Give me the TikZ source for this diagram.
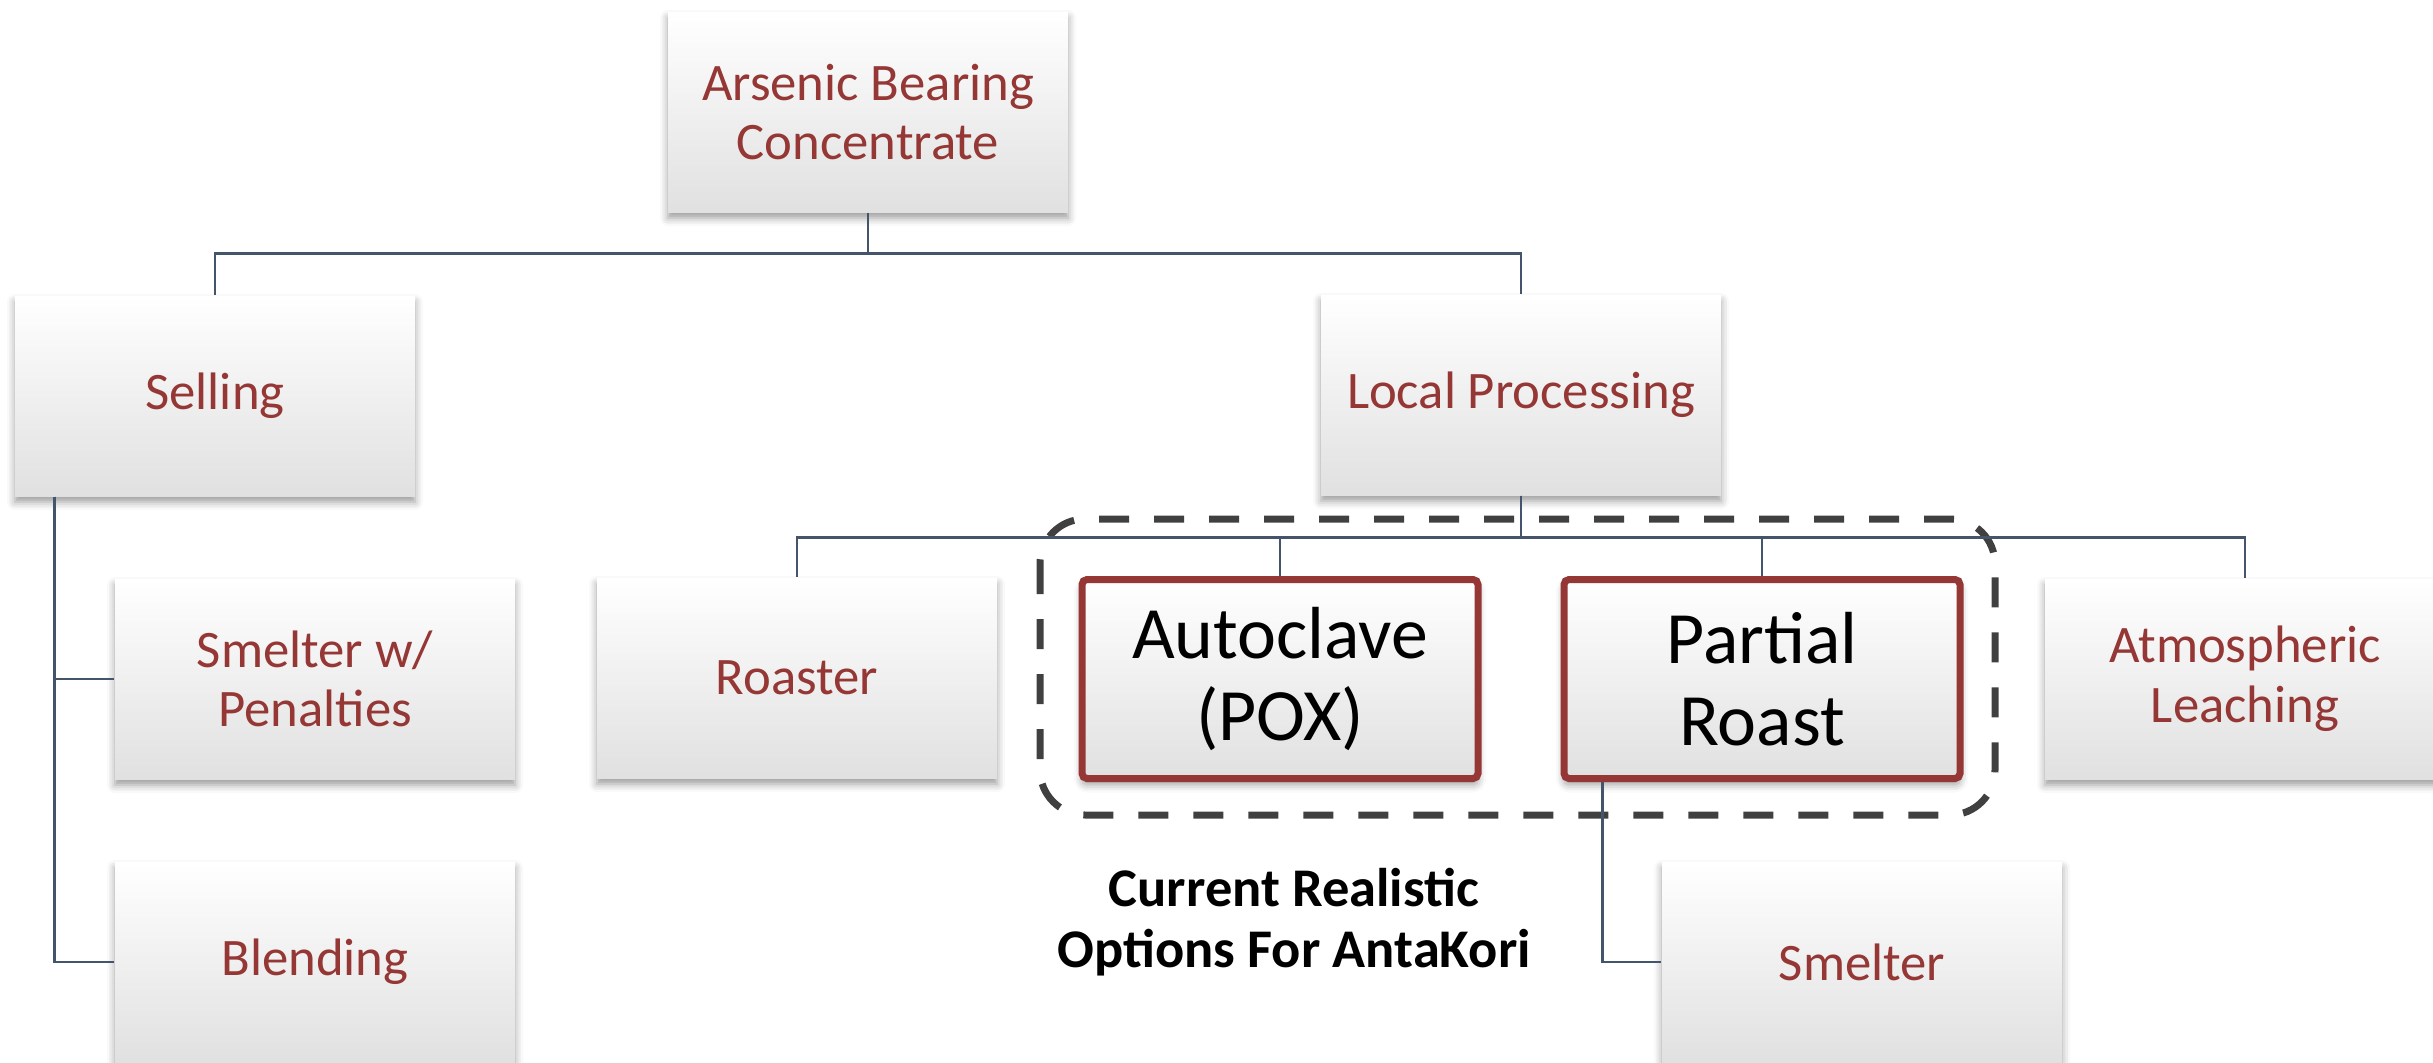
\documentclass[tikz,border=0pt]{standalone}
\usepackage{fontspec}
\setmainfont{Carlito}
\usetikzlibrary{shadows.blur}

\definecolor{optred}{RGB}{149,55,53}
\definecolor{linkblue}{RGB}{68,84,106}
\definecolor{dashgray}{RGB}{64,64,64}

\tikzset{
	box/.style={minimum width=4cm, minimum height=2cm, align=center, text=optred,
		top color=white, middle color=white, bottom color=black!12,
		blur shadow={shadow xshift=0pt, shadow yshift=-0.6mm, shadow blur radius=0.8mm, shadow opacity=40},
		font=\fontsize{15}{17}\selectfont},
	pick/.style={box, draw=optred, line width=0.07cm, rounded corners=0.05cm,
		minimum width=3.96cm, minimum height=1.99cm, text=black,
		font=\fontsize{21}{23.5}\selectfont},
	link/.style={linkblue, line width=0.025cm},
	optbox/.style={dashgray, line width=0.07cm, dash pattern=on 0.3cm off 0.25cm, rounded corners=0.45cm}
}

\begin{document}
\begin{tikzpicture}
\useasboundingbox (0,0) rectangle (24.33,-10.62);

\draw [optbox] (10.40,-5.19) rectangle (19.95,-8.15);

\node (top) at (8.68,-1.12) [box] {Arsenic Bearing\\Concentrate};
\node (sell) at (2.15,-3.96) [box] {Selling};
\node (local) at (15.21,-3.95) [box] {Local Processing};

\node (smw) at (3.15,-6.79) [box] {Smelter w/\\Penalties};
\node (blend) at (3.15,-9.62) [box] {Blending};

\node (roaster) at (7.97,-6.78) [box] {Roaster};
\node (pox) at (12.80,-6.79) [pick] {Autoclave\\(POX)};
\node (partial) at (17.62,-6.79) [pick] {Partial\\Roast};
\node (atmo) at (22.45,-6.79) [box] {Atmospheric\\Leaching};
\node (smelt) at (18.62,-9.62) [box] {Smelter};

\node (note) at (12.94,-9.22) [align=center, font=\fontsize{15.5}{17.4}\selectfont\bfseries] {Current Realistic\\Options For AntaKori};

\draw [link] (top.south) -- ++(0,-0.41) -| (sell.north);
\draw [link] (top.south) -- ++(0,-0.41) -| (local.north);

\draw [link] ([xshift=0.4cm]sell.south west) |- (smw.west);
\draw [link] ([xshift=0.4cm]sell.south west) |- (blend.west);

\draw [link] (local.south) -- ++(0,-0.42) -| (roaster.north);
\draw [link] (local.south) -- ++(0,-0.42) -| (pox.north);
\draw [link] (local.south) -- ++(0,-0.42) -| (partial.north);
\draw [link] (local.south) -- ++(0,-0.42) -| (atmo.north);

\draw [link] ([xshift=0.42cm]partial.south west) |- (smelt.west);

\end{tikzpicture}
\end{document}
